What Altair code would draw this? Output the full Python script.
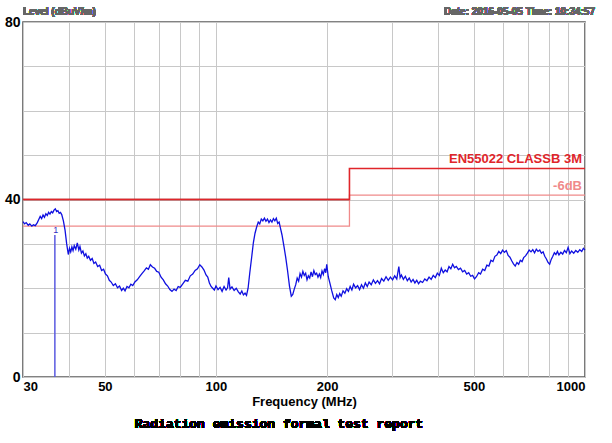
import altair as alt
import pandas as pd

# ---- measured trace (frequency in MHz, level in dBuV/m) ----
freq = [30.0, 30.3, 30.6, 31.0, 31.3, 31.7, 32.0, 32.4, 32.8, 33.1, 33.4, 33.7, 34.0, 34.3, 34.6, 34.9, 35.2,
        35.5, 35.8, 36.1, 36.4, 36.7, 37.0, 37.3, 37.6, 37.9, 38.2, 38.6, 39.0, 39.4, 39.8, 40.1, 40.4, 40.7,
        41.0, 41.3, 41.7, 42.1, 42.5, 42.8, 43.2, 43.6, 44.0, 44.4, 44.8, 45.2, 45.7, 46.2, 46.7, 47.2, 47.8,
        48.4, 49.0, 49.6, 50.2, 50.8, 51.4, 52.0, 52.7, 53.4, 54.1, 54.8, 55.5, 56.1, 56.7, 57.4, 58.1, 58.8,
        59.5, 60.3, 61.2, 62.1, 63.0, 63.9, 64.8, 65.6, 66.4, 67.3, 68.2, 69.1, 70.0, 71.0, 72.0, 73.0, 74.0,
        75.0, 76.0, 77.0, 78.0, 79.0, 80.0, 81.3, 82.6, 83.9, 85.2, 86.5, 87.8, 89.1, 90.4, 91.6, 92.8, 94.0,
        95.0, 96.0, 97.0, 98.0, 99.0, 100.0, 101.3, 102.6, 103.9, 105.2, 106.5, 107.5, 108.3, 109.2, 110.5,
        112.0, 113.5, 115.0, 116.3, 117.5, 118.7, 119.9, 121.0, 122.2, 123.5, 125.0, 126.3, 127.6, 128.9,
        130.2, 131.4, 132.7, 134.0, 135.3, 136.6, 137.9, 139.2, 140.5, 141.8, 143.1, 144.4, 145.7, 147.0,
        148.3, 149.6, 151.0, 152.8, 154.5, 156.3, 158.2, 160.0, 161.5, 163.0, 164.5, 166.0, 167.5, 169.0,
        170.5, 172.0, 173.5, 175.0, 176.5, 178.0, 179.5, 181.0, 182.6, 184.2, 185.8, 187.4, 189.0, 190.6,
        192.2, 193.8, 195.4, 197.0, 198.4, 199.6, 201.5, 203.5, 206.0, 208.5, 210.5, 212.5, 214.5, 216.5,
        218.5, 221.0, 223.5, 226.0, 228.5, 231.0, 233.5, 236.0, 239.0, 242.0, 245.0, 248.0, 251.0, 254.0,
        257.0, 260.0, 263.5, 267.0, 270.5, 274.0, 277.5, 281.0, 285.0, 289.0, 293.0, 297.0, 301.0, 305.0,
        309.0, 313.0, 315.5, 318.0, 322.0, 326.0, 330.0, 334.0, 338.0, 342.0, 346.0, 350.0, 354.0, 358.0,
        363.0, 368.0, 373.0, 378.0, 383.0, 388.0, 393.0, 398.0, 403.0, 408.0, 413.0, 418.0, 423.0, 428.0,
        433.0, 438.0, 443.0, 448.0, 454.0, 460.0, 466.0, 472.0, 478.0, 484.0, 490.0, 496.0, 502.0, 508.0,
        515.0, 521.0, 528.0, 535.0, 542.0, 549.0, 556.0, 563.0, 570.0, 577.0, 584.0, 591.0, 598.0, 605.0,
        612.0, 619.0, 626.0, 633.0, 640.0, 647.0, 654.0, 661.0, 668.0, 675.0, 682.0, 690.0, 698.0, 706.0,
        714.0, 722.0, 730.0, 738.0, 746.0, 754.0, 762.0, 770.0, 778.0, 786.0, 794.0, 802.0, 810.0, 818.0,
        826.0, 834.0, 842.0, 850.0, 860.0, 870.0, 880.0, 890.0, 900.0, 910.0, 920.0, 932.0, 944.0, 956.0,
        968.0, 980.0, 990.0, 1000.0]
level = [35.0, 34.5, 34.8, 34.2, 34.5, 34.0, 34.3, 34.1, 34.8, 35.5, 36.2, 35.7, 36.5, 36.0, 36.8, 36.4, 37.1,
         36.7, 37.3, 37.0, 37.6, 37.9, 37.3, 37.5, 36.9, 37.1, 36.6, 35.2, 33.1, 30.0, 27.6, 29.0, 28.2, 29.3,
         28.5, 29.6, 28.8, 30.2, 28.6, 29.4, 27.9, 28.4, 27.3, 27.8, 26.8, 27.2, 26.3, 26.7, 25.6, 25.9, 24.9,
         25.2, 24.0, 24.3, 23.2, 22.8, 21.8, 21.4, 20.6, 21.0, 20.1, 20.5, 19.5, 20.0, 19.4, 20.4, 20.1, 20.9,
         20.6, 21.4, 21.9, 22.6, 23.3, 23.9, 24.6, 24.3, 25.3, 24.8, 24.5, 23.8, 23.6, 22.5, 21.9, 21.0, 20.5,
         19.7, 19.3, 19.8, 19.5, 20.4, 20.2, 21.0, 21.8, 21.6, 22.8, 23.2, 24.0, 24.4, 25.3, 24.8, 24.1, 23.0,
         22.5, 21.2, 20.4, 20.0, 19.6, 20.5, 19.7, 20.2, 19.3, 20.4, 19.6, 20.1, 22.4, 19.8, 20.3,
         19.5, 20.0, 19.2, 18.7, 19.4, 18.5, 18.9, 18.4, 20.0, 23.5, 27.1, 30.3, 32.4, 33.8,
         34.9, 34.5, 35.6, 35.2, 35.8, 35.1, 35.6, 34.8, 35.4, 34.9, 35.7, 35.2, 35.8, 34.6,
         34.9, 33.5, 32.0, 29.5, 27.0, 24.0, 20.5, 18.2, 18.6, 19.8, 20.8, 22.3, 21.6, 23.3,
         22.5, 23.8, 22.9, 23.4, 21.9, 22.8, 22.3, 23.7, 22.6, 24.0, 23.1, 23.4, 22.5, 23.2,
         22.4, 23.9, 23.1, 24.4, 23.5, 25.4, 22.6, 21.2, 19.4, 17.8, 17.4, 18.6, 17.9, 18.8,
         18.2, 19.4, 18.9, 19.9, 19.3, 20.4, 19.6, 20.9, 20.1, 20.6, 19.7, 20.8, 20.0, 21.2,
         20.4, 21.4, 20.8, 21.9, 21.1, 21.7, 21.0, 22.2, 21.6, 22.6, 21.8, 22.5, 21.9, 22.8,
         22.1, 24.9, 22.4, 23.0, 22.0, 22.7, 21.7, 22.3, 21.4, 22.0, 21.2, 21.8, 21.0, 21.6,
         21.3, 22.1, 21.7, 22.5, 22.0, 22.9, 22.4, 23.4, 22.9, 24.5, 23.5, 24.1, 23.7, 24.9,
         24.4, 25.4, 24.6, 24.9, 24.2, 24.5, 23.7, 24.0, 23.2, 23.5, 22.7, 22.9, 22.1, 22.6,
         23.5, 23.2, 24.3, 24.0, 25.2, 25.0, 26.3, 26.0, 27.2, 27.5, 28.3, 27.8, 28.6, 28.1,
         28.5, 27.4, 27.0, 26.2, 25.5, 25.0, 25.8, 25.4, 26.3, 26.0, 26.9, 27.3, 27.9, 28.6,
         28.2, 28.7, 28.0, 28.8, 28.3, 28.6, 27.9, 28.2, 27.2, 26.6, 25.8, 25.4, 26.5, 27.2,
         28.0, 27.6, 28.3, 27.5, 28.1, 27.7, 28.5, 28.0, 29.2, 27.8, 28.4, 27.9, 28.5, 28.1,
         28.7, 28.3, 29.0, 28.6]

# ---- limit lines ----
limit_freq = [30, 230, 230, 1000]
limit_level = [40, 40, 47, 47]
low_limit_freq = [30, 230]
low_limit_level = [40, 40]
margin_freq = [30, 230, 230, 1000]
margin_level = [34, 34, 41, 41]

# ---- marker ----
marker_freq = [36.6]
marker_level = [32]
marker_label = ["1"]

# ---- axes ----
x_grid = [30, 40, 50, 60, 70, 80, 90, 100, 200, 300, 400, 500, 600, 700, 800, 900, 1000]
x_labels = [30, 50, 100, 200, 500, 1000]
y_grid = [0, 10, 20, 30, 40, 50, 60, 70, 80]
y_labels = [0, 40, 80]

limit_name = "EN55022 CLASSB 3M"
margin_name = "-6dB"
x_title = "Frequency (MHz)"
footer = "Radiation emission formal test report"
top_left = "Level (dBuV/m)"
top_right = "Date: 2016-05-05  Time: 10:34:57"

trace = pd.DataFrame({"f": freq, "v": level})
limit = pd.DataFrame({"f": limit_freq, "v": limit_level, "i": range(4)})
low_limit = pd.DataFrame({"f": low_limit_freq, "v": low_limit_level, "i": range(2)})
margin = pd.DataFrame({"f": margin_freq, "v": margin_level, "i": range(4)})
marker = pd.DataFrame({"f": marker_freq, "v": marker_level, "z": [0], "t": marker_label})
labels = pd.DataFrame({"f": [1000, 1000], "v": [47, 41], "t": [limit_name, margin_name]})

FONT = "Liberation Sans Narrow, Liberation Sans, Arial"

xlab = ",".join(str(v) for v in x_labels)
ylab = ",".join(str(v) for v in y_labels)

xscale = alt.Scale(type="log", domain=[30, 1000], nice=False)
yscale = alt.Scale(domain=[0, 80], nice=False)

xaxis = alt.Axis(values=x_grid, grid=True, gridColor="#c8c8c8", gridWidth=1, domain=False, ticks=False,
                 labelExpr=f"indexof([{xlab}], datum.value) >= 0 ? '' + datum.value : ''",
                 labelFont=FONT, labelFontSize=13, labelFontWeight="bold", labelColor="#000",
                 labelPadding=3, labelOverlap=False, title=x_title, titleFont=FONT, titleFontSize=13,
                 titleFontWeight="bold", titleColor="#000", titlePadding=2)
yaxis = alt.Axis(values=y_grid, grid=True, gridColor="#c8c8c8", gridWidth=1, domain=False, ticks=False,
                 labelExpr=f"indexof([{ylab}], datum.value) >= 0 ? '' + datum.value : ''",
                 labelFont=FONT, labelFontSize=14, labelFontWeight="bold", labelColor="#000",
                 labelPadding=3, labelOverlap=False, title="")

X = alt.X("f:Q", scale=xscale, axis=xaxis)
Y = alt.Y("v:Q", scale=yscale, axis=yaxis)
Xn = alt.X("f:Q", scale=xscale)
Yn = alt.Y("v:Q", scale=yscale)

base_axes = alt.Chart(trace).mark_line(opacity=0).encode(x=X, y=Y)

margin_line = alt.Chart(margin).mark_line(color="#f08a8a", strokeWidth=1.3).encode(x=Xn, y=Yn, order="i:Q")
limit_line = alt.Chart(limit).mark_line(color="#e0252a", strokeWidth=1.6).encode(x=Xn, y=Yn, order="i:Q")
low_line = alt.Chart(low_limit).mark_line(color="#8e2a2a", strokeWidth=1.6).encode(x=Xn, y=Yn, order="i:Q")

trace_line = alt.Chart(trace).mark_line(color="#1010e0", strokeWidth=1.3).encode(x=Xn, y=Yn)

marker_rule = alt.Chart(marker).mark_rule(color="#5a5ae0", strokeWidth=1.5).encode(
    x=Xn, y=alt.Y("z:Q", scale=yscale), y2="v:Q")
marker_text = alt.Chart(marker).mark_text(color="#3030c0", fontSize=9, font=FONT, baseline="bottom", dx=1).encode(
    x=Xn, y=Yn, text="t:N")

lim_text = alt.Chart(labels).mark_text(align="right", baseline="bottom", dx=-3, dy=-2, font=FONT,
                                       fontSize=13, fontWeight="bold").encode(
    x=Xn, y=Yn, text="t:N",
    color=alt.Color("t:N", scale=alt.Scale(domain=[limit_name, margin_name], range=["#e0252a", "#f08a8a"]),
                    legend=None))

top_l = alt.Chart(trace).mark_text(align="left", baseline="bottom", font=FONT, fontSize=10, color="#666",
                                   fontWeight="bold").encode(
    x=alt.value(0), y=alt.value(-5), text=alt.value(top_left))
top_r = alt.Chart(trace).mark_text(align="right", baseline="bottom", font=FONT, fontSize=10, color="#666",
                                   fontWeight="bold").encode(
    x=alt.value(572), y=alt.value(-5), text=alt.value(top_right))
foot = alt.Chart(trace).mark_text(align="center", baseline="middle", font="Liberation Mono, Courier New",
                                  fontSize=13, fontWeight="bold", color="#000").encode(
    x=alt.value(256), y=alt.value(402), text=alt.value(footer))

chart = alt.layer(base_axes, margin_line, low_line, limit_line, trace_line, marker_rule, marker_text,
                  lim_text, top_l, top_r, foot).properties(
    width=562, height=355,
    autosize=alt.AutoSizeParams(type="none"),
    padding={"left": 23, "top": 22, "right": 27, "bottom": 66},
    background="white",
).configure_view(stroke="#5a5a5a", strokeWidth=1.6)

chart.save("out.html", embed_options={"renderer": "svg", "actions": False})
